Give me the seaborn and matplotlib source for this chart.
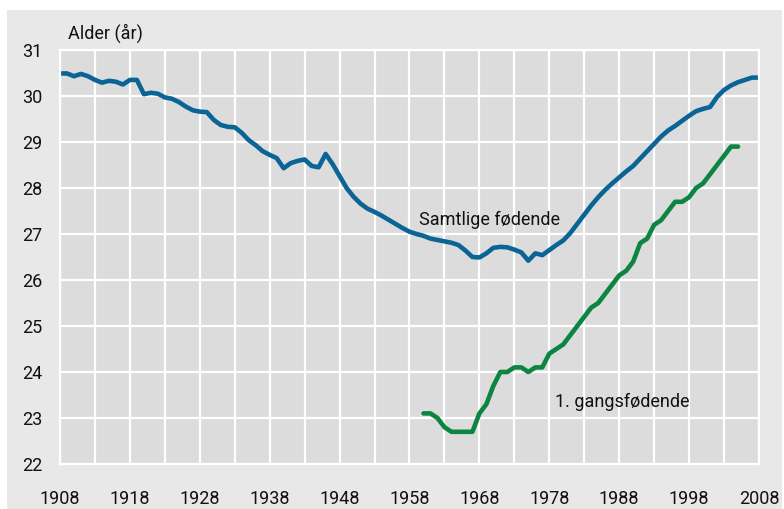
import matplotlib.pyplot as plt
import seaborn as sns
from matplotlib.patches import Rectangle

# Gjennomsnittsalder ved fødsel
years_all = list(range(1908, 2009))
samtlige = [30.49, 30.49, 30.43, 30.48, 30.43, 30.35, 30.29, 30.33, 30.31, 30.25,
            30.35, 30.35, 30.04, 30.07, 30.05, 29.97, 29.94, 29.87, 29.77, 29.69,
            29.66, 29.65, 29.48, 29.37, 29.33, 29.32, 29.20, 29.04, 28.93, 28.80,
            28.72, 28.65, 28.43, 28.54, 28.59, 28.62, 28.48, 28.45, 28.74, 28.52,
            28.26, 28.00, 27.81, 27.66, 27.55, 27.48, 27.40, 27.31, 27.22, 27.13,
            27.05, 27.00, 26.96, 26.90, 26.87, 26.84, 26.81, 26.76, 26.64, 26.50,
            26.49, 26.58, 26.70, 26.72, 26.71, 26.66, 26.60, 26.42, 26.58, 26.54,
            26.65, 26.76, 26.86, 27.02, 27.22, 27.42, 27.62, 27.80, 27.96, 28.10,
            28.23, 28.36, 28.48, 28.64, 28.80, 28.96, 29.12, 29.25, 29.35, 29.46,
            29.57, 29.67, 29.72, 29.76, 29.98, 30.13, 30.23, 30.30, 30.35, 30.40,
            30.40]

years_first = list(range(1960, 2006))
forstegangs = [23.1, 23.1, 23.0, 22.8, 22.7, 22.7, 22.7, 22.7, 23.1, 23.3,
               23.7, 24.0, 24.0, 24.1, 24.1, 24.0, 24.1, 24.1, 24.4, 24.5,
               24.6, 24.8, 25.0, 25.2, 25.4, 25.5, 25.7, 25.9, 26.1, 26.2,
               26.4, 26.8, 26.9, 27.2, 27.3, 27.5, 27.7, 27.7, 27.8, 28.0,
               28.1, 28.3, 28.5, 28.7, 28.9, 28.9]

major_ticks = list(range(1908, 2009, 10))
minor_ticks = list(range(1913, 2008, 10))
y_ticks = list(range(22, 32))

sns.set_style("white")
plt.rcParams['font.family'] = ['Roboto', 'DejaVu Sans']

fig = plt.figure(figsize=(7.84, 5.09), dpi=100, facecolor="white")
fig.patches.append(Rectangle((7 / 784, 0), 775 / 784, 499 / 509,
                             transform=fig.transFigure, facecolor="#e8e8e8",
                             edgecolor="none", zorder=-10))
ax = fig.add_axes([60 / 784, 45 / 509, 699 / 784, 414 / 509])
ax.set_facecolor("#dcdcdc")

sns.lineplot(x=years_all, y=samtlige, ax=ax, color="#0b6496", linewidth=3.3)
sns.lineplot(x=years_first, y=forstegangs, ax=ax, color="#0b8541", linewidth=3.3)

ax.set_xlim(1908, 2008)
ax.set_ylim(22, 31)
ax.set_xticks(major_ticks)
ax.set_xticks(minor_ticks, minor=True)
ax.set_yticks(y_ticks)
ax.grid(which="both", color="white", linewidth=1.6)
ax.set_axisbelow(True)
for s in ax.spines.values():
    s.set_color("white")
    s.set_linewidth(1.6)
ax.tick_params(axis="both", which="both", length=0, labelsize=13, colors="#111111")
ax.tick_params(axis="x", pad=19)
ax.tick_params(axis="y", pad=13)
ax.set_xlabel("")
ax.set_ylabel("")

ax.text(1969.5, 27.3, "Samtlige fødende", fontsize=13, ha="center", va="center",
        color="#111111")
ax.text(1988.5, 23.35, "1. gangsfødende", fontsize=13, ha="center", va="center",
        color="#111111")
fig.text(68 / 784, 1 - 33 / 509, "Alder (år)", fontsize=13, ha="left", va="center",
         color="#111111")

fig.savefig("out.png", dpi=100, facecolor=fig.get_facecolor())
